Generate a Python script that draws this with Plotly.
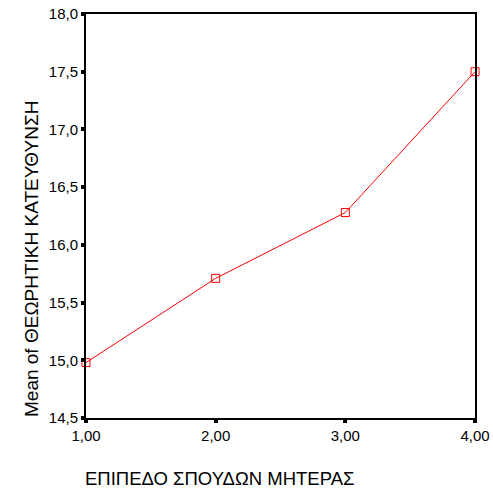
import plotly.graph_objects as go

x_vals = [1, 2, 3, 4]
y_means = [14.98, 15.71, 16.28, 17.50]
x_ticks = [1, 2, 3, 4]
x_tick_labels = ["1,00", "2,00", "3,00", "4,00"]
y_ticks = [14.5, 15.0, 15.5, 16.0, 16.5, 17.0, 17.5, 18.0]
y_tick_labels = ["14,5", "15,0", "15,5", "16,0", "16,5", "17,0", "17,5", "18,0"]
x_title = "ΕΠΙΠΕΔΟ ΣΠΟΥΔΩΝ ΜΗΤΕΡΑΣ"
y_title = "Mean of ΘΕΩΡΗΤΙΚΗ ΚΑΤΕΥΘΥΝΣΗ"

# plot area in page pixels (body margin removed below)
L, T, R, B = 86, 14, 475, 418
PW, PH = R - L, B - T

fig = go.Figure()
fig.add_trace(go.Scatter(
    x=x_vals, y=y_means, mode="lines+markers",
    line=dict(color="#ff0000", width=1),
    marker=dict(symbol="square-open", size=8, color="#ff0000", line=dict(width=1)),
    cliponaxis=False,
))

fam = "Liberation Sans, Arial, sans-serif"
axis_font = dict(family=fam, size=15, color="#000000")
fig.update_layout(
    width=493, height=490,
    margin=dict(l=L, r=493 - R, t=T, b=490 - B, autoexpand=False),
    paper_bgcolor="white", plot_bgcolor="white",
    showlegend=False,
    font=axis_font,
    xaxis=dict(
        range=[1, 4], tickvals=x_ticks, ticktext=x_tick_labels,
        showgrid=False, zeroline=False, automargin=False,
        showline=True, linecolor="black", linewidth=2, mirror=True,
        ticks="outside", ticklen=3, tickwidth=4, tickcolor="black",
        tickfont=axis_font, ticklabeloverflow="allow",
    ),
    yaxis=dict(
        range=[14.5, 18.0], tickvals=y_ticks, ticktext=y_tick_labels,
        showgrid=False, zeroline=False, automargin=False,
        showline=True, linecolor="black", linewidth=2, mirror=True,
        ticks="outside", ticklen=3, tickwidth=4, tickcolor="black",
        tickfont=axis_font, ticklabeloverflow="allow",
    ),
    annotations=[
        dict(text=x_title, xref="paper", yref="paper", x=(219 - L) / PW, y=(B - 479) / PH,
             xanchor="center", yanchor="middle", showarrow=False,
             font=dict(family=fam, size=18.5, color="black")),
        dict(text=y_title, xref="paper", yref="paper", x=(31 - L) / PW, y=(B - 259) / PH,
             xanchor="center", yanchor="middle", textangle=-90, showarrow=False,
             font=dict(family=fam, size=19, color="black")),
    ],
)

fig.write_html("out.html", config={"displayModeBar": False},
               post_script="document.body.style.margin='0';")
